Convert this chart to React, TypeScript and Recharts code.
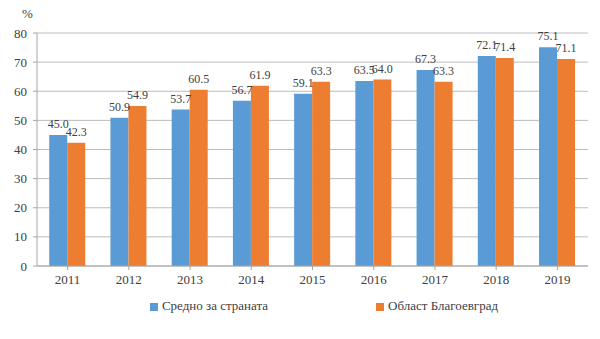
import { BarChart, Bar, XAxis, YAxis, CartesianGrid, Legend, LabelList } from 'recharts';

// години и стойности (%), отчетени от графиката
const years = ['2011', '2012', '2013', '2014', '2015', '2016', '2017', '2018', '2019'];
const national = [45.0, 50.9, 53.7, 56.7, 59.1, 63.5, 67.3, 72.1, 75.1];
const blagoevgrad = [42.3, 54.9, 60.5, 61.9, 63.3, 64.0, 63.3, 71.4, 71.1];
const yTicks = [0, 10, 20, 30, 40, 50, 60, 70, 80];

const data = years.map((year, i) => ({
  year,
  national: national[i],
  blagoevgrad: blagoevgrad[i],
}));

const font = '"Liberation Serif", "Times New Roman", "DejaVu Serif", serif';

export default function App() {
  return (
    <div style={{ position: 'absolute', left: 0, top: 0, width: 600, height: 339, background: '#fff', fontFamily: font }}>
      <div style={{ position: 'absolute', left: 22, top: 6, fontSize: 13, color: '#404040' }}>%</div>
      <BarChart
        width={600}
        height={339}
        data={data}
        margin={{ top: 33, right: 12, bottom: 27, left: 0 }}
        barCategoryGap="20%"
        barGap={0}
        style={{ fontFamily: font }}
      >
        <CartesianGrid vertical={false} stroke="#bcbcbc" />
        <XAxis
          dataKey="year"
          axisLine={{ stroke: '#a6a6a6' }}
          tickLine={{ stroke: '#a6a6a6' }}
          tickSize={4}
          tickMargin={5}
          tick={{ fill: '#404040', fontSize: 13, fontFamily: font }}
          interval={0}
        />
        <YAxis
          width={37}
          domain={[0, 80]}
          ticks={yTicks}
          axisLine={{ stroke: '#a6a6a6' }}
          tickLine={{ stroke: '#a6a6a6' }}
          tickSize={4}
          tickMargin={6}
          tick={{ fill: '#404040', fontSize: 13, fontFamily: font }}
        />
        <Legend
          verticalAlign="bottom"
          iconType="square"
          iconSize={8}
          itemSorter={(item: any) => (item.dataKey === 'national' ? 0 : 1)}
          wrapperStyle={{ bottom: 25, paddingLeft: 35, fontSize: 13, fontFamily: font, color: '#404040' }}
          formatter={(value: string, entry: any) => (
            <span style={{ color: '#404040', marginRight: entry.dataKey === 'national' ? 98 : 0, fontFamily: font }}>{value}</span>
          )}
        />
        <Bar dataKey="national" name="Средно за страната" fill="#5b9bd5" isAnimationActive={false}>
          <LabelList
            dataKey="national"
            position="top"
            offset={7}
            formatter={(v: any) => Number(v).toFixed(1)}
            style={{ fill: '#404040', fontSize: 12, fontFamily: font }}
          />
        </Bar>
        <Bar dataKey="blagoevgrad" name="Област Благоевград" fill="#ed7d31" isAnimationActive={false}>
          <LabelList
            dataKey="blagoevgrad"
            position="top"
            offset={7}
            formatter={(v: any) => Number(v).toFixed(1)}
            style={{ fill: '#404040', fontSize: 12, fontFamily: font }}
          />
        </Bar>
      </BarChart>
    </div>
  );
}
